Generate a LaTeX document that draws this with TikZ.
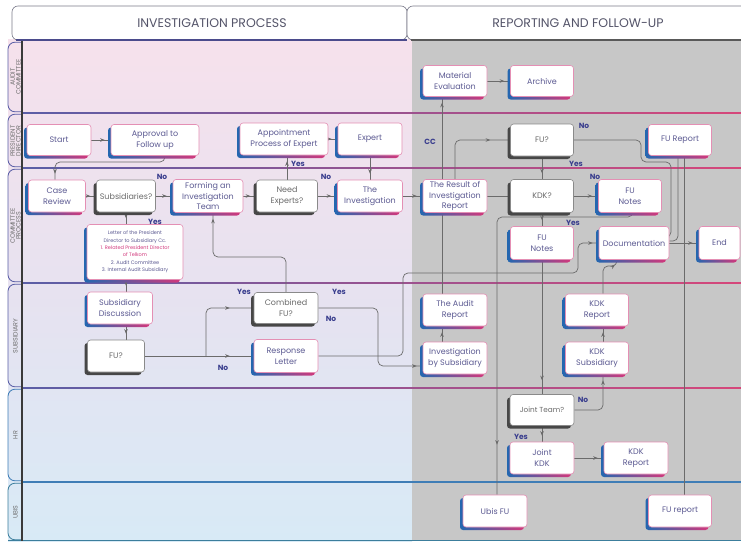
\documentclass[tikz,border=0pt]{standalone}
\usepackage{fontspec}
\setmainfont{Poppins}
\usetikzlibrary{arrows.meta,decorations.markings,shadows}
\definecolor{pinkbg}{HTML}{F6E1EC}
\definecolor{lavbg}{HTML}{E7E2F0}
\definecolor{bluebg}{HTML}{D8EAF6}
\definecolor{graybg}{HTML}{C7C7C7}
\definecolor{txt}{HTML}{5C5A92}
\definecolor{dtxt}{HTML}{6A6A6A}
\definecolor{bdr}{HTML}{E48FB4}
\definecolor{sblue}{HTML}{2467B0}
\definecolor{smag}{HTML}{D2387C}
\definecolor{decb}{HTML}{8A8A8A}
\definecolor{decs}{HTML}{474747}
\definecolor{lab}{HTML}{3A3E8E}
\definecolor{cline}{HTML}{6B6B6B}
\definecolor{lanec}{HTML}{5A5EA6}
\definecolor{lanep}{HTML}{D6477A}
\definecolor{laneb}{HTML}{3F7DB6}
\definecolor{laneu}{HTML}{3C7E9C}
\definecolor{hdrt}{HTML}{55556A}
\definecolor{hdrb}{HTML}{7A7A8A}
\definecolor{hsha}{HTML}{4B4B8C}
\definecolor{vline}{HTML}{3A3A3A}
\definecolor{lanetxt}{HTML}{6E6E6E}
\pgfdeclarelayer{bg}
\pgfdeclarelayer{cn}
\pgfsetlayers{bg,cn,main}
\begin{document}
\begin{tikzpicture}[x=1pt,y=-1pt,
  nb/.style={rounded corners=3pt, fill=white, align=center, inner sep=1pt,
    font=\fontsize{8}{10.5}\selectfont, minimum height=32pt},
  proc/.style={nb, draw=bdr, line width=0.6pt, text=txt,
    general shadow={shadow xshift=-3pt, shadow yshift=-3pt, left color=sblue, right color=smag, draw=none}},
  dec/.style={nb, draw=decb, line width=0.6pt, text=dtxt,
    general shadow={shadow xshift=-3pt, shadow yshift=-3pt, fill=decs, draw=none}},
  lbl/.style={font=\bfseries\fontsize{7.5}{8}\selectfont, text=lab, inner sep=0pt},
  conn/.style={draw=cline, line width=0.7pt, rounded corners=5pt},
  arr/.style={postaction={decorate, decoration={markings, mark=at position #1 with {\arrow{Stealth[length=4.5pt,width=3.6pt]}}}}},
  arr/.default=-6pt,
  lanelbl/.style={rotate=90, align=center, text=lanetxt, font=\fontsize{6.3}{5.8}\selectfont, inner sep=0pt},
  hbox/.style={draw=hdrb, fill=white, rounded corners=6pt, line width=0.6pt},
  htext/.style={text=hdrt, font=\fontsize{12.5}{14}\selectfont}
]
\useasboundingbox (0,0) rectangle (741,543);

% ---------- nodes ----------
\node[proc,minimum width=64pt,minimum height=31pt] (mat) at (455,81) {Material\\Evaluation};
\node[proc,minimum width=63pt,minimum height=31pt] (arch) at (542,81) {Archive};
\node[proc,minimum width=64pt,minimum height=31pt] (start) at (59,140) {Start};
\node[proc,minimum width=88pt,minimum height=31pt] (appr) at (155,140) {Approval to\\Follow up};
\node[proc,minimum width=88pt] (appt) at (284,139) {Appointment\\Process of Expert};
\node[proc,minimum width=64pt] (expert) at (370,139) {Expert};
\node[dec,minimum width=63pt] (fu1) at (542,140) {FU?};
\node[proc,minimum width=63pt,minimum height=31pt] (fur) at (680,140) {FU Report};
\node[proc,minimum width=57pt] (case) at (57,196) {Case\\Review};
\node[dec,minimum width=59pt,inner sep=0pt] (subs) at (126,196) {Subsidiaries?};
\node[proc,minimum width=70pt,minimum height=33pt] (form) at (208,196) {Forming an\\Investigation\\Team};
\node[dec,minimum width=61pt] (need) at (287,196) {Need\\Experts?};
\node[proc,minimum width=65pt] (inv) at (370,196) {The\\Investigation};
\node[proc,minimum width=64pt,minimum height=33pt] (res) at (455,196) {The Result of\\Investigation\\Report};
\node[dec,minimum width=63pt,minimum height=33pt] (kdk) at (542,196) {KDK?};
\node[proc,minimum width=63pt,minimum height=33pt] (fun1) at (630,196) {FU\\Notes};
\node[proc,minimum width=96pt,minimum height=55pt,font=\fontsize{5}{7.4}\selectfont] (letter) at (135,252)
  {Letter of the President\\Director to Subsidiary Cc.\\\textcolor{smag}{1. Related President Director}\\\textcolor{smag}{of Telkom}\\2. Audit Committee\\3. Internal Audit Subsidiary};
\node[proc,minimum width=63pt,minimum height=33pt] (fun2) at (542,243) {FU\\Notes};
\node[proc,minimum width=70pt,minimum height=33pt,inner sep=0pt] (doc) at (634,243) {Documentation};
\node[proc,minimum width=41pt,minimum height=33pt] (end) at (719.5,243) {End};
\node[proc,minimum width=65pt] (sdisc) at (120,308) {Subsidiary\\Discussion};
\node[dec,minimum width=57pt] (fu2) at (116,356) {FU?};
\node[dec,minimum width=64pt,minimum height=31pt] (comb) at (286,308) {Combined\\FU?};
\node[proc,minimum width=64pt,minimum height=33pt] (resp) at (286,356) {Response\\Letter};
\node[proc,minimum width=64pt] (audit) at (455,310) {The Audit\\Report};
\node[proc,minimum width=64pt] (isub) at (455,358) {Investigation\\by Subsidiary};
\node[proc,minimum width=63pt] (kr1) at (597,310) {KDK\\Report};
\node[proc,minimum width=63pt] (ksub) at (597,358) {KDK\\Subsidiary};
\node[dec,minimum width=64pt,minimum height=31pt,font=\fontsize{7.3}{9}\selectfont] (joint) at (542,410) {Joint Team?};
\node[proc,minimum width=64pt] (jkdk) at (542,458) {Joint\\KDK};
\node[proc,minimum width=64pt] (kr2) at (636,458) {KDK\\Report};
\node[proc,minimum width=64pt] (ubis) at (495,511) {Ubis FU};
\node[proc,minimum width=63pt] (fur2) at (680,511) {FU report};

% ---------- labels ----------
\node[lbl] (l1) at (162,177) {No};
\node[lbl] (l2) at (155,222) {Yes};
\node[lbl] (l3) at (298,164) {Yes};
\node[lbl] (l4) at (326,177) {No};
\node[lbl] (l5) at (244,292) {Yes};
\node[lbl] (l6) at (223,368) {No};
\node[lbl] (l7) at (339,292) {Yes};
\node[lbl] (l8) at (331,319) {No};
\node[lbl] (l9) at (584,126) {No};
\node[lbl] (l10) at (576,164) {Yes};
\node[lbl] (l11) at (595,177) {No};
\node[lbl] (l12) at (573,223) {Yes};
\node[lbl] (l13) at (583,400) {No};
\node[lbl] (l14) at (521,437) {Yes};
\node[lbl] (l15) at (430,142) {CC};

% ---------- background ----------
\begin{pgfonlayer}{bg}
\fill[white] (0,0) rectangle (741,543);
\shade[top color=pinkbg, bottom color=bluebg, middle color=lavbg] (8,40) rectangle (412,541);
\fill[graybg] (412,40) rectangle (741,541);
\draw[hbox] (12,6) rectangle (407,40);
\draw[hbox] (407,6) rectangle (752,40);
\draw[hsha, line width=2pt] (16,40) -- (407,40);
\draw[black!65, line width=2pt] (411,40) -- (741,40);
\node[htext] (hd1) at (212,23) {INVESTIGATION PROCESS};
\node[htext] (hd2) at (578,23) {REPORTING AND FOLLOW-UP};
\foreach \t/\b/\c in {41/113/lanec,113/168/lanec,168/283/lanec,283/388/lanec,388/482/laneb,482/541/laneu}
  \draw[\c, line width=0.8pt, rounded corners=7pt] (22,\t+1.2) -- (8,\t+1.2) -- (8,\b-1.2) -- (22,\b-1.2);
\foreach \y in {113,168,283,388}
  \shade[left color=lanec, right color=lanep] (22,\y-0.6) rectangle (741,\y+0.6);
\fill[laneb] (22,481.4) rectangle (741,482.6);
\fill[laneu] (8,540.2) rectangle (741,541.4);
\draw[vline, line width=1.1pt] (22,41) -- (22,541);
\node[lanelbl] (ln1) at (15.5,77) {AUDIT\\COMMITTEE};
\node[lanelbl] (ln2) at (15.5,141) {PRESIDENT\\DIRECTOR};
\node[lanelbl] (ln3) at (15.5,226) {COMMITTEE\\PROCESS};
\node[lanelbl] (ln4) at (15.5,336) {SUBSIDIARY};
\node[lanelbl] (ln5) at (15.5,435) {HR};
\node[lanelbl] (ln6) at (15.5,512) {UBIS};
\end{pgfonlayer}

% ---------- connectors ----------
\begin{pgfonlayer}{cn}
\coordinate (a1) at (165,162); \coordinate (a2) at (55,162);
\coordinate (x126) at (126,0);
\coordinate (b1) at (206,356);
\coordinate (c1) at (213,257);
\coordinate (c2) at (378,308); \coordinate (c3) at (378,366);
\coordinate (d1) at (403,273); \coordinate (d2) at (578,273);
\coordinate (x442) at (442,0);
\coordinate (e1) at (641,162); \coordinate (e2) at (671,162); \coordinate (e3) at (671,237);
\coordinate (g1) at (678,241);
\coordinate (x684) at (684,0);
\coordinate (f1) at (633,217); \coordinate (f2) at (497,217);
\coordinate (x603) at (603,0);
\coordinate (h1) at (603,266); \coordinate (h2) at (617,266);

\draw[conn,arr] (start) -- (appr);
\draw[conn,arr] (appr.south -| a1) -- (a1) -- (a2) -- (case.north -| a2);
\draw[conn,arr] (case) -- (subs);
\draw[conn,arr] (subs) -- (form);
\draw[conn,arr] (subs.south) -- (subs.south |- letter.north);
\draw[conn,arr] (letter.south -| x126) -- (sdisc.north -| x126);
\draw[conn,arr] (sdisc.south -| x126) -- (fu2.north -| x126);
\draw[conn,arr=-24pt] (fu2) -- (resp);
\draw[conn,arr=-24pt] (b1) |- (comb.west);
\draw[conn,arr] (comb.north) |- (c1) -- (form.south -| c1);
\draw[conn,arr] (comb.east) -- (c2) -- (c3) -- (c3 -| isub.west);
\draw[conn,arr] (resp.east) -| (d1) -- (d2) |- (doc.west);
\draw[conn,arr] (need.north) -- (need.north |- appt.south);
\draw[conn,arr] (appt) -- (expert);
\draw[conn,arr] (expert) -- (inv);
\draw[conn,arr] (form) -- (need);
\draw[conn,arr] (need) -- (inv);
\draw[conn,arr] (inv) -- (res);
\draw[conn,arr] (isub.north -| x442) -- (audit.south -| x442);
\draw[conn,arr] (audit.north -| x442) -- (mat.south -| x442);
\draw[conn,arr=-20pt] (res.north) |- (fu1.west);
\draw[conn] (res) -- (kdk);
\draw[conn,arr] (fu1) -- (kdk);
\draw[conn] (fu1.east) -| (e1) -- (e2) -- (e3) -- (e3 -| doc.east);
\draw[conn] (fur.south -| g1) -- (g1) -- (g1 -| doc.east);
\draw[conn] (fur2.north -| x684) -- (fur.south -| x684);
\draw[conn,arr] (kdk) -- (fun1);
\draw[conn,arr] (kdk) -- (fun2);
\draw[conn,arr=-50pt] (fun1.south -| f1) -- (f1) -- (f2) -- (ubis.north -| f2);
\draw[conn,arr=-14pt] (fun2) -- (joint);
\draw[conn,arr] (joint.east) -| (ksub.south -| x603);
\draw[conn,arr] (joint) -- (jkdk);
\draw[conn,arr] (jkdk) -- (kr2);
\draw[conn,arr] (ksub.north -| x603) -- (kr1.south -| x603);
\draw[conn,arr] (kr1.north -| x603) -- (h1) -- (h2) -- (doc.south -| h2);
\draw[conn,arr] (doc) -- (end);
\draw[conn,arr] (mat) -- (arch);
\end{pgfonlayer}
\end{tikzpicture}
\end{document}
